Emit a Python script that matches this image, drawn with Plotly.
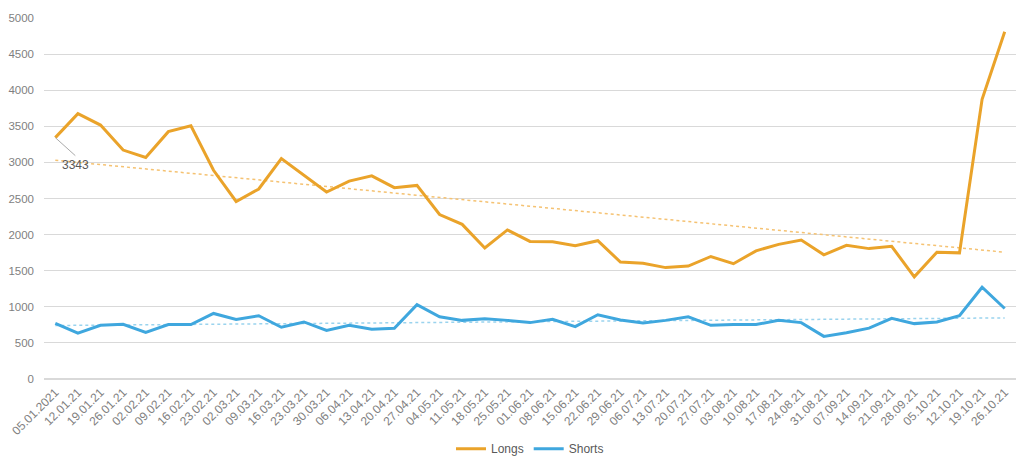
import numpy as np
import plotly.graph_objects as go

dates = ["05.01.2021", "12.01.21", "19.01.21", "26.01.21", "02.02.21", "09.02.21", "16.02.21",
         "23.02.21", "02.03.21", "09.03.21", "16.03.21", "23.03.21", "30.03.21", "06.04.21",
         "13.04.21", "20.04.21", "27.04.21", "04.05.21", "11.05.21", "18.05.21", "25.05.21",
         "01.06.21", "08.06.21", "15.06.21", "22.06.21", "29.06.21", "06.07.21", "13.07.21",
         "20.07.21", "27.07.21", "03.08.21", "10.08.21", "17.08.21", "24.08.21", "31.08.21",
         "07.09.21", "14.09.21", "21.09.21", "28.09.21", "05.10.21", "12.10.21", "19.10.21",
         "26.10.21"]

longs = [3343, 3675, 3517, 3171, 3068, 3426, 3507, 2891, 2459, 2632, 3054, 2820, 2590,
         2741, 2813, 2650, 2681, 2278, 2142, 1815, 2065, 1906, 1901, 1847, 1915, 1620,
         1602, 1543, 1565, 1697, 1597, 1775, 1865, 1924, 1720, 1851, 1806, 1837, 1415,
         1756, 1747, 3875, 4810]

shorts = [772, 636, 745, 758, 645, 754, 754, 908, 826, 876, 717, 790, 672, 744, 690, 704,
          1030, 862, 812, 835, 812, 781, 826, 726, 890, 817, 776, 812, 862, 744, 754, 754,
          812, 781, 590, 640, 704, 840, 767, 790, 876, 1271, 976]

y_ticks = [0, 500, 1000, 1500, 2000, 2500, 3000, 3500, 4000, 4500, 5000]

ORANGE = "#EAA32A"
BLUE = "#3FA7DE"
FONT = "Liberation Sans, Arial, sans-serif"

idx = np.arange(len(dates))
lc = np.polyfit(idx, longs, 1)
sc = np.polyfit(idx, shorts, 1)
long_trend = np.polyval(lc, idx)
short_trend = np.polyval(sc, idx)

fig = go.Figure()
fig.add_trace(go.Scatter(x=dates, y=long_trend, mode="lines", showlegend=False,
                         line=dict(color="#F5C272", width=1.5, dash="dot"), hoverinfo="skip"))
fig.add_trace(go.Scatter(x=dates, y=short_trend, mode="lines", showlegend=False,
                         line=dict(color="#9AD3EE", width=1.5, dash="dot"), hoverinfo="skip"))
fig.add_trace(go.Scatter(x=dates, y=longs, mode="lines", name="Longs",
                         line=dict(color=ORANGE, width=3)))
fig.add_trace(go.Scatter(x=dates, y=shorts, mode="lines", name="Shorts",
                         line=dict(color=BLUE, width=3)))

fig.add_annotation(x=dates[0], y=longs[0], text=str(longs[0]), showarrow=True,
                   arrowhead=0, arrowwidth=1, arrowcolor="#aaaaaa", ax=20, ay=18,
                   xanchor="center", yanchor="top",
                   font=dict(size=12, color="#595959", family=FONT))

fig.update_layout(
    width=1024, height=471,
    margin=dict(l=44, r=8, t=18, b=85),
    plot_bgcolor="white", paper_bgcolor="white",
    font=dict(family=FONT, size=12, color="#7f7f7f"),
    legend=dict(orientation="h", x=0.5, xanchor="center", y=-0.193, yanchor="middle",
                font=dict(size=12, color="#595959"), itemwidth=30),
    xaxis=dict(type="category", range=[-0.5, len(dates) - 0.5], tickangle=-45,
               automargin=False, showgrid=False, showline=False, ticks="",
               ticklabelstandoff=3, tickfont=dict(size=12, color="#7f7f7f")),
    yaxis=dict(range=[0, 5000], tickvals=y_ticks, showgrid=True, gridcolor="#d9d9d9",
               automargin=False, gridwidth=1, zeroline=True, zerolinecolor="#d9d9d9",
               showline=False, ticks="", ticklabelstandoff=9,
               tickfont=dict(size=11.5, color="#7f7f7f")),
)

fig.write_html("out.html", config={"displayModeBar": False},
               post_script="document.body.style.margin='0';document.body.style.overflow='hidden';")
